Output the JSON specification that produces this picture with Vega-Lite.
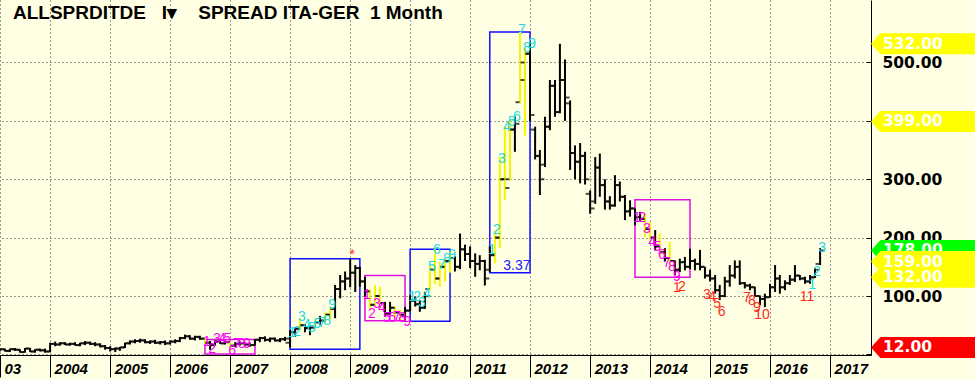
{
  "$schema": "https://vega.github.io/schema/vega-lite/v6.json",
  "width": 871,
  "height": 355,
  "autosize": {"type": "none"},
  "padding": {"left": 0, "top": 0, "right": 104, "bottom": 25},
  "background": "#FFFFE3",
  "config": {"view": {"stroke": null}},
  "title": {
    "text": "ALLSPRDITDE\u00a0\u00a0\u00a0I▾\u00a0\u00a0\u00a0\u00a0SPREAD ITA-GER\u00a0\u00a01 Month",
    "anchor": "start", "frame": "group", "orient": "top", "offset": -23, "dx": 13,
    "font": "Liberation Sans", "fontSize": 19, "fontWeight": "bold", "color": "black"
  },
  "datasets": {
    "bars": [
      {"d":"2003/03/01","o":8,"h":11,"l":5,"c":9,"s":"n"},
      {"d":"2003/04/01","o":9,"h":10,"l":5,"c":6,"s":"n"},
      {"d":"2003/05/01","o":6,"h":10,"l":4,"c":9,"s":"n"},
      {"d":"2003/06/01","o":9,"h":11,"l":6,"c":8,"s":"n"},
      {"d":"2003/07/01","o":8,"h":9,"l":3,"c":4,"s":"n"},
      {"d":"2003/08/01","o":4,"h":11,"l":3,"c":10,"s":"n"},
      {"d":"2003/09/01","o":10,"h":11,"l":4,"c":5,"s":"n"},
      {"d":"2003/10/01","o":5,"h":9,"l":3,"c":8,"s":"n"},
      {"d":"2003/11/01","o":8,"h":10,"l":5,"c":7,"s":"n"},
      {"d":"2003/12/01","o":7,"h":10,"l":3,"c":5,"s":"n"},
      {"d":"2004/01/01","o":5,"h":20,"l":4,"c":18,"s":"n"},
      {"d":"2004/02/01","o":18,"h":22,"l":14,"c":17,"s":"n"},
      {"d":"2004/03/01","o":17,"h":21,"l":15,"c":19,"s":"n"},
      {"d":"2004/04/01","o":19,"h":21,"l":16,"c":17,"s":"n"},
      {"d":"2004/05/01","o":17,"h":20,"l":15,"c":18,"s":"n"},
      {"d":"2004/06/01","o":18,"h":21,"l":15,"c":16,"s":"n"},
      {"d":"2004/07/01","o":16,"h":20,"l":14,"c":19,"s":"n"},
      {"d":"2004/08/01","o":19,"h":23,"l":16,"c":20,"s":"n"},
      {"d":"2004/09/01","o":20,"h":22,"l":16,"c":18,"s":"n"},
      {"d":"2004/10/01","o":18,"h":21,"l":14,"c":17,"s":"n"},
      {"d":"2004/11/01","o":17,"h":19,"l":12,"c":14,"s":"n"},
      {"d":"2004/12/01","o":14,"h":16,"l":8,"c":11,"s":"n"},
      {"d":"2005/01/01","o":11,"h":14,"l":5,"c":9,"s":"n"},
      {"d":"2005/02/01","o":9,"h":12,"l":4,"c":10,"s":"n"},
      {"d":"2005/03/01","o":10,"h":13,"l":6,"c":12,"s":"n"},
      {"d":"2005/04/01","o":12,"h":20,"l":11,"c":19,"s":"n"},
      {"d":"2005/05/01","o":19,"h":24,"l":17,"c":22,"s":"n"},
      {"d":"2005/06/01","o":22,"h":26,"l":19,"c":23,"s":"n"},
      {"d":"2005/07/01","o":23,"h":27,"l":20,"c":24,"s":"n"},
      {"d":"2005/08/01","o":24,"h":26,"l":19,"c":21,"s":"n"},
      {"d":"2005/09/01","o":21,"h":24,"l":18,"c":22,"s":"n"},
      {"d":"2005/10/01","o":22,"h":25,"l":18,"c":20,"s":"n"},
      {"d":"2005/11/01","o":20,"h":23,"l":17,"c":21,"s":"n"},
      {"d":"2005/12/01","o":21,"h":24,"l":16,"c":19,"s":"n"},
      {"d":"2006/01/01","o":19,"h":24,"l":17,"c":22,"s":"n"},
      {"d":"2006/02/01","o":22,"h":26,"l":19,"c":23,"s":"n"},
      {"d":"2006/03/01","o":23,"h":30,"l":21,"c":28,"s":"n"},
      {"d":"2006/04/01","o":28,"h":34,"l":26,"c":31,"s":"n"},
      {"d":"2006/05/01","o":31,"h":33,"l":25,"c":27,"s":"n"},
      {"d":"2006/06/01","o":27,"h":32,"l":24,"c":30,"s":"n"},
      {"d":"2006/07/01","o":30,"h":32,"l":25,"c":27,"s":"n"},
      {"d":"2006/08/01","o":27,"h":28,"l":18,"c":20,"s":"y"},
      {"d":"2006/09/01","o":20,"h":23,"l":8,"c":16,"s":"n"},
      {"d":"2006/10/01","o":16,"h":24,"l":15,"c":22,"s":"n"},
      {"d":"2006/11/01","o":22,"h":25,"l":18,"c":19,"s":"n"},
      {"d":"2006/12/01","o":19,"h":24,"l":17,"c":21,"s":"n"},
      {"d":"2007/01/01","o":21,"h":22,"l":6,"c":15,"s":"y"},
      {"d":"2007/02/01","o":15,"h":21,"l":12,"c":18,"s":"n"},
      {"d":"2007/03/01","o":18,"h":22,"l":15,"c":19,"s":"n"},
      {"d":"2007/04/01","o":19,"h":21,"l":14,"c":17,"s":"n"},
      {"d":"2007/05/01","o":17,"h":20,"l":13,"c":16,"s":"n"},
      {"d":"2007/06/01","o":16,"h":26,"l":15,"c":25,"s":"n"},
      {"d":"2007/07/01","o":25,"h":30,"l":21,"c":28,"s":"n"},
      {"d":"2007/08/01","o":28,"h":31,"l":22,"c":25,"s":"n"},
      {"d":"2007/09/01","o":25,"h":29,"l":21,"c":27,"s":"n"},
      {"d":"2007/10/01","o":27,"h":29,"l":22,"c":24,"s":"n"},
      {"d":"2007/11/01","o":24,"h":28,"l":21,"c":26,"s":"n"},
      {"d":"2007/12/01","o":26,"h":30,"l":23,"c":27,"s":"n"},
      {"d":"2008/01/01","o":20,"h":42,"l":12,"c":38,"s":"n"},
      {"d":"2008/02/01","o":38,"h":47,"l":30,"c":44,"s":"n"},
      {"d":"2008/03/01","o":44,"h":62,"l":42,"c":50,"s":"y"},
      {"d":"2008/04/01","o":50,"h":52,"l":38,"c":45,"s":"n"},
      {"d":"2008/05/01","o":45,"h":50,"l":33,"c":46,"s":"n"},
      {"d":"2008/06/01","o":46,"h":62,"l":44,"c":55,"s":"y"},
      {"d":"2008/07/01","o":55,"h":66,"l":50,"c":58,"s":"n"},
      {"d":"2008/08/01","o":58,"h":72,"l":55,"c":68,"s":"y"},
      {"d":"2008/09/01","o":68,"h":82,"l":60,"c":78,"s":"y"},
      {"d":"2008/10/01","o":78,"h":119,"l":62,"c":112,"s":"n"},
      {"d":"2008/11/01","o":112,"h":136,"l":96,"c":125,"s":"n"},
      {"d":"2008/12/01","o":125,"h":142,"l":110,"c":130,"s":"n"},
      {"d":"2009/01/01","o":130,"h":163,"l":115,"c":140,"s":"n"},
      {"d":"2009/02/01","o":140,"h":153,"l":107,"c":148,"s":"n"},
      {"d":"2009/03/01","o":148,"h":150,"l":116,"c":125,"s":"n"},
      {"d":"2009/04/01","o":125,"h":133,"l":99,"c":108,"s":"n"},
      {"d":"2009/05/01","o":108,"h":112,"l":76,"c":85,"s":"y"},
      {"d":"2009/06/01","o":85,"h":119,"l":82,"c":100,"s":"y"},
      {"d":"2009/07/01","o":100,"h":116,"l":79,"c":88,"s":"y"},
      {"d":"2009/08/01","o":88,"h":90,"l":64,"c":70,"s":"n"},
      {"d":"2009/09/01","o":70,"h":90,"l":67,"c":80,"s":"n"},
      {"d":"2009/10/01","o":80,"h":81,"l":64,"c":72,"s":"y"},
      {"d":"2009/11/01","o":72,"h":76,"l":59,"c":68,"s":"y"},
      {"d":"2009/12/01","o":68,"h":81,"l":56,"c":75,"s":"n"},
      {"d":"2010/01/01","o":75,"h":101,"l":74,"c":92,"s":"n"},
      {"d":"2010/02/01","o":92,"h":99,"l":82,"c":86,"s":"n"},
      {"d":"2010/03/01","o":86,"h":93,"l":73,"c":80,"s":"n"},
      {"d":"2010/04/01","o":80,"h":107,"l":78,"c":100,"s":"n"},
      {"d":"2010/05/01","o":112,"h":152,"l":110,"c":145,"s":"y"},
      {"d":"2010/06/01","o":145,"h":182,"l":120,"c":130,"s":"y"},
      {"d":"2010/07/01","o":130,"h":158,"l":116,"c":150,"s":"y"},
      {"d":"2010/08/01","o":150,"h":165,"l":125,"c":160,"s":"y"},
      {"d":"2010/09/01","o":160,"h":176,"l":140,"c":165,"s":"y"},
      {"d":"2010/10/01","o":165,"h":168,"l":142,"c":150,"s":"n"},
      {"d":"2010/11/01","o":150,"h":207,"l":146,"c":180,"s":"n"},
      {"d":"2010/12/01","o":180,"h":188,"l":160,"c":172,"s":"n"},
      {"d":"2011/01/01","o":172,"h":185,"l":148,"c":160,"s":"n"},
      {"d":"2011/02/01","o":160,"h":173,"l":133,"c":155,"s":"n"},
      {"d":"2011/03/01","o":155,"h":170,"l":144,"c":160,"s":"n"},
      {"d":"2011/04/01","o":160,"h":162,"l":118,"c":130,"s":"n"},
      {"d":"2011/05/01","o":145,"h":187,"l":141,"c":170,"s":"n"},
      {"d":"2011/06/01","o":170,"h":212,"l":156,"c":200,"s":"y"},
      {"d":"2011/07/01","o":200,"h":338,"l":182,"c":300,"s":"y"},
      {"d":"2011/08/01","o":300,"h":390,"l":264,"c":285,"s":"y"},
      {"d":"2011/09/01","o":300,"h":401,"l":298,"c":385,"s":"y"},
      {"d":"2011/10/01","o":385,"h":407,"l":347,"c":395,"s":"n"},
      {"d":"2011/11/01","o":432,"h":552,"l":430,"c":500,"s":"y"},
      {"d":"2011/12/01","o":470,"h":524,"l":375,"c":515,"s":"y"},
      {"d":"2012/01/01","o":515,"h":536,"l":400,"c":410,"s":"n"},
      {"d":"2012/02/01","o":385,"h":390,"l":334,"c":340,"s":"n"},
      {"d":"2012/03/01","o":340,"h":350,"l":273,"c":300,"s":"n"},
      {"d":"2012/04/01","o":325,"h":407,"l":321,"c":390,"s":"n"},
      {"d":"2012/05/01","o":390,"h":470,"l":384,"c":460,"s":"n"},
      {"d":"2012/06/01","o":460,"h":470,"l":407,"c":415,"s":"n"},
      {"d":"2012/07/01","o":415,"h":532,"l":413,"c":470,"s":"n"},
      {"d":"2012/08/01","o":470,"h":505,"l":400,"c":440,"s":"n"},
      {"d":"2012/09/01","o":430,"h":435,"l":316,"c":345,"s":"n"},
      {"d":"2012/10/01","o":345,"h":358,"l":300,"c":330,"s":"n"},
      {"d":"2012/11/01","o":330,"h":362,"l":293,"c":340,"s":"n"},
      {"d":"2012/12/01","o":340,"h":347,"l":291,"c":300,"s":"n"},
      {"d":"2013/01/01","o":275,"h":281,"l":241,"c":250,"s":"n"},
      {"d":"2013/02/01","o":262,"h":338,"l":258,"c":320,"s":"n"},
      {"d":"2013/03/01","o":320,"h":344,"l":270,"c":290,"s":"n"},
      {"d":"2013/04/01","o":290,"h":300,"l":248,"c":262,"s":"n"},
      {"d":"2013/05/01","o":262,"h":271,"l":248,"c":255,"s":"n"},
      {"d":"2013/06/01","o":255,"h":307,"l":253,"c":290,"s":"n"},
      {"d":"2013/07/01","o":290,"h":296,"l":262,"c":270,"s":"n"},
      {"d":"2013/08/01","o":270,"h":273,"l":230,"c":245,"s":"n"},
      {"d":"2013/09/01","o":245,"h":264,"l":236,"c":250,"s":"n"},
      {"d":"2013/10/01","o":250,"h":250,"l":221,"c":235,"s":"n"},
      {"d":"2013/11/01","o":235,"h":244,"l":227,"c":232,"s":"n"},
      {"d":"2013/12/01","o":232,"h":242,"l":201,"c":215,"s":"y"},
      {"d":"2014/01/01","o":215,"h":227,"l":190,"c":200,"s":"y"},
      {"d":"2014/02/01","o":200,"h":213,"l":178,"c":185,"s":"n"},
      {"d":"2014/03/01","o":185,"h":207,"l":167,"c":175,"s":"y"},
      {"d":"2014/04/01","o":175,"h":182,"l":159,"c":165,"s":"n"},
      {"d":"2014/05/01","o":165,"h":193,"l":147,"c":160,"s":"y"},
      {"d":"2014/06/01","o":160,"h":161,"l":136,"c":145,"s":"n"},
      {"d":"2014/07/01","o":145,"h":164,"l":141,"c":158,"s":"n"},
      {"d":"2014/08/01","o":158,"h":167,"l":144,"c":150,"s":"n"},
      {"d":"2014/09/01","o":150,"h":181,"l":146,"c":160,"s":"n"},
      {"d":"2014/10/01","o":160,"h":164,"l":144,"c":155,"s":"n"},
      {"d":"2014/11/01","o":155,"h":179,"l":144,"c":150,"s":"n"},
      {"d":"2014/12/01","o":150,"h":150,"l":130,"c":135,"s":"n"},
      {"d":"2015/01/01","o":135,"h":145,"l":125,"c":130,"s":"n"},
      {"d":"2015/02/01","o":130,"h":136,"l":104,"c":110,"s":"n"},
      {"d":"2015/03/01","o":110,"h":119,"l":93,"c":100,"s":"n"},
      {"d":"2015/04/01","o":100,"h":133,"l":98,"c":125,"s":"n"},
      {"d":"2015/05/01","o":125,"h":153,"l":116,"c":135,"s":"n"},
      {"d":"2015/06/01","o":135,"h":161,"l":130,"c":150,"s":"n"},
      {"d":"2015/07/01","o":150,"h":161,"l":119,"c":122,"s":"n"},
      {"d":"2015/08/01","o":122,"h":124,"l":113,"c":118,"s":"n"},
      {"d":"2015/09/01","o":118,"h":121,"l":110,"c":115,"s":"n"},
      {"d":"2015/10/01","o":115,"h":116,"l":99,"c":100,"s":"n"},
      {"d":"2015/11/01","o":100,"h":101,"l":84,"c":95,"s":"n"},
      {"d":"2015/12/01","o":95,"h":104,"l":81,"c":98,"s":"n"},
      {"d":"2016/01/01","o":98,"h":121,"l":97,"c":115,"s":"n"},
      {"d":"2016/02/01","o":115,"h":153,"l":107,"c":130,"s":"n"},
      {"d":"2016/03/01","o":130,"h":136,"l":104,"c":115,"s":"n"},
      {"d":"2016/04/01","o":115,"h":127,"l":110,"c":122,"s":"n"},
      {"d":"2016/05/01","o":122,"h":136,"l":119,"c":128,"s":"n"},
      {"d":"2016/06/01","o":128,"h":153,"l":124,"c":135,"s":"n"},
      {"d":"2016/07/01","o":135,"h":136,"l":127,"c":130,"s":"n"},
      {"d":"2016/08/01","o":130,"h":133,"l":121,"c":125,"s":"n"},
      {"d":"2016/09/01","o":125,"h":136,"l":121,"c":132,"s":"n"},
      {"d":"2016/10/01","o":132,"h":147,"l":131,"c":145,"s":"n"},
      {"d":"2016/11/01","o":155,"h":182,"l":153,"c":178,"s":"n"}
    ],
    "boxes": [
      {"d":"2006/08/01","d2":"2007/06/01","v1":0.5,"v2":25.5,"k":"m"},
      {"d":"2008/01/01","d2":"2009/03/01","v1":9,"v2":164,"k":"b"},
      {"d":"2009/04/01","d2":"2009/12/01","v1":57.5,"v2":135,"k":"m"},
      {"d":"2010/01/01","d2":"2010/09/01","v1":57,"v2":180,"k":"b"},
      {"d":"2011/05/01","d2":"2012/01/01","v1":140,"v2":552,"k":"b"},
      {"d":"2013/10/01","d2":"2014/09/01","v1":132,"v2":265,"k":"m"}
    ],
    "labels": [
      {"d":"2006/08/01","v":21,"t":"1","k":"m"},
      {"d":"2006/09/01","v":9,"t":"2","k":"m"},
      {"d":"2006/10/01","v":26,"t":"3","k":"m"},
      {"d":"2006/11/01","v":26,"t":"4","k":"m"},
      {"d":"2006/12/01","v":26,"t":"5","k":"m"},
      {"d":"2007/01/01","v":5,"t":"6","k":"m"},
      {"d":"2007/02/01","v":17,"t":"7","k":"m"},
      {"d":"2007/03/01","v":17,"t":"8","k":"m"},
      {"d":"2007/04/01","v":17,"t":"9","k":"m"},
      {"d":"2008/01/01","v":36,"t":"1","k":"c"},
      {"d":"2008/02/01","v":39,"t":"2","k":"c"},
      {"d":"2008/03/01","v":64,"t":"3","k":"c"},
      {"d":"2008/04/01","v":50,"t":"4","k":"c"},
      {"d":"2008/05/01","v":46,"t":"5","k":"c"},
      {"d":"2008/06/01","v":52,"t":"6","k":"c"},
      {"d":"2008/07/01","v":54,"t":"7","k":"c"},
      {"d":"2008/08/01","v":58,"t":"8","k":"c"},
      {"d":"2008/09/01","v":84,"t":"9","k":"c"},
      {"d":"2009/01/01","v":170,"t":"*","k":"r"},
      {"d":"2009/04/01","v":101,"t":"1","k":"m"},
      {"d":"2009/05/01","v":70,"t":"2","k":"m"},
      {"d":"2009/06/01","v":87,"t":"3","k":"m"},
      {"d":"2009/07/01","v":79,"t":"4","k":"m"},
      {"d":"2009/08/01","v":62,"t":"5","k":"m"},
      {"d":"2009/09/01","v":63,"t":"6","k":"m"},
      {"d":"2009/10/01","v":64,"t":"7","k":"m"},
      {"d":"2009/11/01","v":62,"t":"8","k":"m"},
      {"d":"2009/12/01","v":56,"t":"9","k":"m"},
      {"d":"2010/01/01","v":99,"t":"1","k":"c"},
      {"d":"2010/02/01","v":99,"t":"2","k":"c"},
      {"d":"2010/03/01","v":88,"t":"3","k":"c"},
      {"d":"2010/04/01","v":104,"t":"4","k":"c"},
      {"d":"2010/05/01","v":150,"t":"5","k":"c"},
      {"d":"2010/06/01","v":179,"t":"6","k":"c"},
      {"d":"2010/07/01","v":153,"t":"7","k":"c"},
      {"d":"2010/08/01","v":164,"t":"8","k":"c"},
      {"d":"2010/09/01","v":170,"t":"9","k":"c"},
      {"d":"2011/05/01","v":178,"t":"1","k":"c"},
      {"d":"2011/06/01","v":213,"t":"2","k":"c"},
      {"d":"2011/07/01","v":335,"t":"3","k":"c"},
      {"d":"2011/08/01","v":390,"t":"4","k":"c"},
      {"d":"2011/09/01","v":398,"t":"5","k":"c"},
      {"d":"2011/10/01","v":406,"t":"6","k":"c"},
      {"d":"2011/11/01","v":555,"t":"7","k":"c"},
      {"d":"2011/12/01","v":524,"t":"8","k":"c"},
      {"d":"2012/01/01","v":531,"t":"9","k":"c"},
      {"d":"2011/10/01","v":151,"t":"3.37","k":"b"},
      {"d":"2013/10/01","v":233,"t":"1","k":"m"},
      {"d":"2013/11/01","v":233,"t":"2","k":"m"},
      {"d":"2013/12/01","v":214,"t":"3","k":"m"},
      {"d":"2014/01/01","v":193,"t":"4","k":"m"},
      {"d":"2014/02/01","v":184,"t":"5","k":"m"},
      {"d":"2014/03/01","v":170,"t":"6","k":"m"},
      {"d":"2014/04/01","v":156,"t":"7","k":"m"},
      {"d":"2014/05/01","v":149,"t":"8","k":"m"},
      {"d":"2014/06/01","v":133,"t":"9","k":"m"},
      {"d":"2014/06/01","v":114,"t":"1","k":"r"},
      {"d":"2014/07/01","v":116,"t":"2","k":"r"},
      {"d":"2014/12/01","v":101,"t":"3","k":"r"},
      {"d":"2015/01/01","v":98,"t":"4","k":"r"},
      {"d":"2015/02/01","v":87,"t":"5","k":"r"},
      {"d":"2015/03/01","v":73,"t":"6","k":"r"},
      {"d":"2015/08/01","v":96,"t":"7","k":"r"},
      {"d":"2015/09/01","v":92,"t":"8","k":"r"},
      {"d":"2015/10/01","v":79,"t":"9","k":"r"},
      {"d":"2015/11/01","v":67,"t":"10","k":"r"},
      {"d":"2016/08/01","v":99,"t":"11","k":"r"},
      {"d":"2016/09/01","v":119,"t":"1","k":"c"},
      {"d":"2016/10/01","v":141,"t":"2","k":"c"},
      {"d":"2016/11/01","v":182,"t":"3","k":"c"}
    ],
    "tags": [
      {"v":532,"k":"y","g":1},
      {"v":399,"k":"y","g":1},
      {"v":12,"k":"r","g":1},
      {"v":178,"k":"g","g":1},
      {"v":159,"k":"y","g":2},
      {"v":132,"k":"y","g":3}
    ]
  },
  "resolve": {"scale": {"color": "independent"}},
  "layer": [
    {
      "data": {"name": "boxes"},
      "mark": {"type": "rect", "filled": false, "strokeWidth": 1.5},
      "encoding": {
        "x": {
          "field": "d", "type": "temporal",
          "scale": {"domain": [{"year": 2003, "month": 3, "date": 2}, {"year": 2017, "month": 9, "date": 7}]},
          "axis": {
            "title": null,
            "values": [{"year":2003,"month":3,"date":2},{"year":2004},{"year":2005},{"year":2006},{"year":2007},{"year":2008},{"year":2009},{"year":2010},{"year":2011},{"year":2012},{"year":2013},{"year":2014},{"year":2015},{"year":2016},{"year":2017}],
            "labelExpr": "year(datum.value) == 2003 ? '03' : timeFormat(datum.value, '%Y')",
            "labelAlign": "left", "labelBaseline": "top", "labelOffset": 4, "labelPadding": -16,
            "labelFont": "Liberation Sans", "labelFontSize": 15, "labelFontWeight": "bold", "labelFontStyle": "italic",
            "labelColor": "black", "labelFlush": false, "labelOverlap": false, "labelBound": false,
            "tickSize": 22, "tickColor": "black", "tickWidth": 1,
            "domainColor": "black", "domainWidth": 1,
            "grid": true, "gridColor": "#222222", "gridDash": [1, 3], "gridWidth": 1, "gridOpacity": 0.9
          }
        },
        "x2": {"field": "d2"},
        "y": {
          "field": "v1", "type": "quantitative",
          "scale": {"domain": [-1, 607], "nice": false, "zero": false},
          "axis": {
            "title": null, "orient": "right",
            "values": [0, 100, 200, 300, 400, 500],
            "labelExpr": "datum.value == 0 ? '' : format(datum.value, '.2f')",
            "labelFont": "DejaVu Sans", "labelFontSize": 15.5, "labelFontWeight": "bold", "labelColor": "black",
            "labelAlign": "left", "labelBaseline": "middle", "labelPadding": 16,
            "tickSize": -5, "tickColor": "black",
            "domainColor": "black", "domainWidth": 1,
            "grid": true, "gridColor": "#222222", "gridDash": [1, 3], "gridWidth": 1, "gridOpacity": 0.9
          }
        },
        "y2": {"field": "v2"},
        "color": {"field": "k", "type": "nominal", "legend": null,
          "scale": {"domain": ["b", "m"], "range": ["#1010FF", "#E010E0"]}}
      }
    },
    {
      "data": {"name": "bars"},
      "mark": {"type": "rule", "strokeWidth": 2},
      "encoding": {
        "x": {"field": "d", "type": "temporal"},
        "y": {"field": "l", "type": "quantitative"},
        "y2": {"field": "h"},
        "color": {"field": "s", "type": "nominal", "legend": null,
          "scale": {"domain": ["n", "y"], "range": ["#000000", "#F5F500"]}}
      }
    },
    {
      "data": {"name": "bars"},
      "mark": {"type": "tick", "orient": "horizontal", "size": 4, "thickness": 2, "xOffset": -2.5, "color": "black"},
      "encoding": {
        "x": {"field": "d", "type": "temporal"},
        "y": {"field": "o", "type": "quantitative"}
      }
    },
    {
      "data": {"name": "bars"},
      "mark": {"type": "tick", "orient": "horizontal", "size": 4, "thickness": 2, "xOffset": 2.5, "color": "black"},
      "encoding": {
        "x": {"field": "d", "type": "temporal"},
        "y": {"field": "c", "type": "quantitative"}
      }
    },
    {
      "data": {"name": "labels"},
      "mark": {"type": "text", "font": "Liberation Sans", "fontSize": 14, "align": "center", "baseline": "middle", "dx": 2},
      "encoding": {
        "x": {"field": "d", "type": "temporal"},
        "y": {"field": "v", "type": "quantitative"},
        "text": {"field": "t"},
        "color": {"field": "k", "type": "nominal", "legend": null,
          "scale": {"domain": ["c", "m", "r", "b"], "range": ["#22D8E8", "#FF00FF", "#FF2A1A", "#2020FF"]}}
      }
    },
    {
      "data": {"name": "tags"},
      "transform": [{"filter": "datum.g == 1"}],
      "mark": {"type": "point", "shape": "M0,0L0.9,-1L10,-1L10,1L0.9,1Z", "size": 441, "filled": true, "opacity": 1, "strokeWidth": 0},
      "encoding": {
        "x": {"value": "width"},
        "y": {"field": "v", "type": "quantitative"},
        "color": {"field": "k", "type": "nominal", "legend": null,
          "scale": {"domain": ["y", "g", "r"], "range": ["#FFFF00", "#00FF00", "#FF0000"]}}
      }
    },
    {
      "data": {"name": "tags"},
      "transform": [{"filter": "datum.g == 1"}],
      "mark": {"type": "text", "font": "DejaVu Sans", "fontSize": 15.5, "fontWeight": "bold", "align": "left", "baseline": "middle", "dx": 12, "color": "white"},
      "encoding": {
        "x": {"value": "width"},
        "y": {"field": "v", "type": "quantitative"},
        "text": {"field": "v", "type": "quantitative", "format": ".2f"}
      }
    },
    {
      "data": {"name": "tags"},
      "transform": [{"filter": "datum.g == 2"}],
      "mark": {"type": "point", "shape": "M0,0L0.9,-1L10,-1L10,1L0.9,1Z", "size": 441, "filled": true, "opacity": 1, "strokeWidth": 0, "color": "#FFFF00"},
      "encoding": {
        "x": {"value": "width"},
        "y": {"field": "v", "type": "quantitative"}
      }
    },
    {
      "data": {"name": "tags"},
      "transform": [{"filter": "datum.g == 2"}],
      "mark": {"type": "text", "font": "DejaVu Sans", "fontSize": 15.5, "fontWeight": "bold", "align": "left", "baseline": "middle", "dx": 12, "color": "white"},
      "encoding": {
        "x": {"value": "width"},
        "y": {"field": "v", "type": "quantitative"},
        "text": {"field": "v", "type": "quantitative", "format": ".2f"}
      }
    },
    {
      "data": {"name": "tags"},
      "transform": [{"filter": "datum.g == 3"}],
      "mark": {"type": "point", "shape": "M0,0L0.9,-1L10,-1L10,1L0.9,1Z", "size": 441, "filled": true, "opacity": 1, "strokeWidth": 0, "color": "#FFFF00"},
      "encoding": {
        "x": {"value": "width"},
        "y": {"field": "v", "type": "quantitative"}
      }
    },
    {
      "data": {"name": "tags"},
      "transform": [{"filter": "datum.g == 3"}],
      "mark": {"type": "text", "font": "DejaVu Sans", "fontSize": 15.5, "fontWeight": "bold", "align": "left", "baseline": "middle", "dx": 12, "color": "white"},
      "encoding": {
        "x": {"value": "width"},
        "y": {"field": "v", "type": "quantitative"},
        "text": {"field": "v", "type": "quantitative", "format": ".2f"}
      }
    }
  ]
}
